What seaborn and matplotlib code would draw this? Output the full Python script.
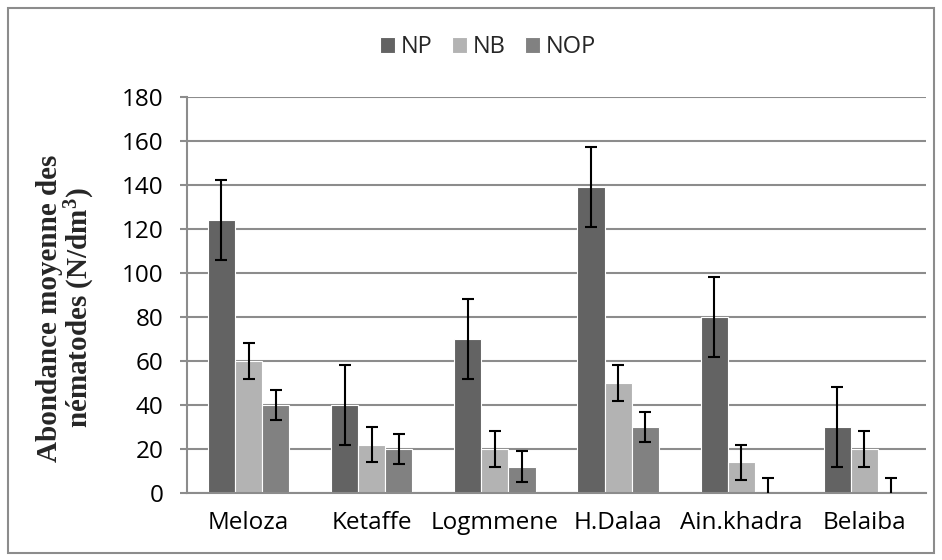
import numpy as np
import pandas as pd
import matplotlib.pyplot as plt
import seaborn as sns
from matplotlib.patches import Rectangle

# Values
sites = ['Meloza', 'Ketaffe', 'Logmmene', 'H.Dalaa', 'Ain.khadra', 'Belaiba']
groups = ['NP', 'NB', 'NOP']
np_mean = [124, 40, 70, 139, 80, 30]
nb_mean = [60, 22, 20, 50, 14, 20]
nop_mean = [40, 20, 12, 30, 0, 0]
np_err = [18, 18, 18, 18, 18, 18]
nb_err = [8, 8, 8, 8, 8, 8]
nop_err = [7, 7, 7, 7, 7, 7]

colors = {'NP': '#636363', 'NB': '#b3b3b3', 'NOP': '#818181'}

df = pd.DataFrame({
    'site': sites * 3,
    'group': ['NP'] * 6 + ['NB'] * 6 + ['NOP'] * 6,
    'value': np_mean + nb_mean + nop_mean,
    'err': np_err + nb_err + nop_err,
})

sns.set_style('white')
plt.rcParams['mathtext.default'] = 'regular'
fig = plt.figure(figsize=(9.42, 5.6), dpi=100)
ax = fig.add_axes([0.1985, 0.1196, 0.7845, 0.7075])

sns.barplot(data=df, x='site', y='value', hue='group', order=sites,
            hue_order=groups, palette=colors, width=0.66, errorbar=None,
            edgecolor='white', linewidth=0.8, ax=ax, zorder=2)

# error bars at the centre of each bar; zero bars only get the upper half
for patch_group, grp in zip(ax.containers, groups):
    sub = df[df['group'] == grp].set_index('site').loc[sites]
    xs = np.array([p.get_x() + p.get_width() / 2 for p in patch_group])
    vals = sub['value'].values
    errs = sub['err'].values
    full = vals > 0
    ax.errorbar(xs[full], vals[full], yerr=errs[full], fmt='none', ecolor='black',
                elinewidth=1.5, capsize=4.5, capthick=1.5, zorder=3)
    if (~full).any():
        ax.errorbar(xs[~full], vals[~full], yerr=[np.zeros((~full).sum()), errs[~full]],
                    fmt='none', ecolor='black', elinewidth=1.5, capsize=0, zorder=3)
        ax.plot(xs[~full], vals[~full] + errs[~full], ls='none', marker='_',
                ms=9, mew=1.5, color='black', zorder=3)

ax.set_ylim(0, 180)
ax.set_xlim(-0.5, 5.5)
ax.set_yticks(np.arange(0, 181, 20))
ax.yaxis.grid(True, color='#8c8c8c', linewidth=1.5, zorder=0)
ax.set_axisbelow(True)

for s in ['top', 'right']:
    ax.spines[s].set_visible(False)
for s in ['left', 'bottom']:
    ax.spines[s].set_color('#8c8c8c')
    ax.spines[s].set_linewidth(1.5)

ax.set_xticks(np.arange(-0.5, 6, 1), minor=True)
ax.tick_params(axis='x', which='major', length=0, pad=13)
ax.tick_params(axis='x', which='minor', length=6, width=1.5, color='#8c8c8c')
ax.tick_params(axis='y', length=5, width=1.5, color='#8c8c8c', pad=12, left=True)
for lab in ax.get_xticklabels() + ax.get_yticklabels():
    lab.set_fontfamily('Open Sans')
    lab.set_fontsize(17.5)
    lab.set_color('black')

ax.set_xlabel('')
ax.set_ylabel('Abondance moyenne des\nnématodes (N/dm$^{3}$)',
              fontfamily='Liberation Serif', fontweight='bold', fontsize=21,
              linespacing=1.0)
ax.yaxis.set_label_coords(-0.122, 0.467)

handles, labels = ax.get_legend_handles_labels()
ax.legend_.remove()
fig.legend(handles, labels, loc='center', bbox_to_anchor=(0.518, 0.916),
           ncol=3, frameon=False, handlelength=0.64, handleheight=0.64,
           handletextpad=0.25, columnspacing=0.8,
           prop={'family': 'Open Sans', 'size': 17})

fig.patches.append(Rectangle((0.009, 0.013), 0.983, 0.973, transform=fig.transFigure,
                             fill=False, edgecolor='#8c8c8c', linewidth=1.5))

fig.savefig('out.png', dpi=100)
